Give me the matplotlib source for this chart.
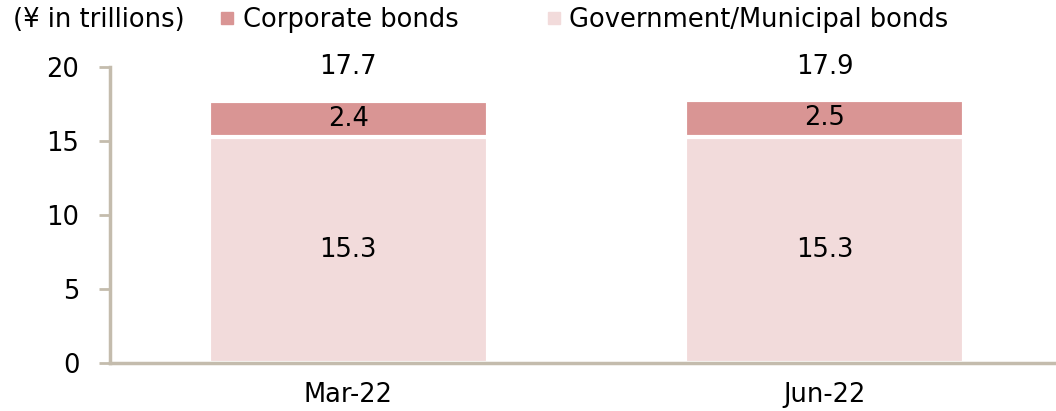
import matplotlib.pyplot as plt
from matplotlib.lines import Line2D

categories = ['Mar-22', 'Jun-22']
government = [15.3, 15.3]
corporate = [2.4, 2.5]
totals = [17.7, 17.9]

col_gov = '#F2DBDB'
col_corp = '#D99594'
spine_col = '#C4BCAD'
fs = 18.5

plt.rcParams['font.family'] = 'DejaVu Sans'

fig = plt.figure(figsize=(10.56, 4.11), dpi=100)
ax = fig.add_axes([110 / 1056, 1 - 363 / 411, 953 / 1056, 296 / 411])

x = range(len(categories))
ax.bar(x, government, width=0.585, color=col_gov, edgecolor='white', linewidth=3)
ax.bar(x, corporate, bottom=government, width=0.585, color=col_corp,
       edgecolor='white', linewidth=3)

for i in x:
    ax.text(i, government[i] / 2, f'{government[i]:.1f}', ha='center', va='center',
            fontsize=fs)
    ax.text(i, government[i] + corporate[i] / 2, f'{corporate[i]:.1f}', ha='center',
            va='center', fontsize=fs)
    ax.text(i, 20, f'{totals[i]:.1f}', ha='center', va='center', fontsize=fs)

ax.set_xlim(-0.5, 1.5)
ax.set_ylim(0, 20)
ax.set_yticks([0, 5, 10, 15, 20])
ax.set_xticks(list(x))
ax.set_xticklabels(categories)
ax.tick_params(axis='y', length=8, width=2, color=spine_col, labelsize=fs, pad=14)
ax.tick_params(axis='x', length=0, labelsize=fs, pad=14)
for s in ['top', 'right']:
    ax.spines[s].set_visible(False)
for s in ['left', 'bottom']:
    ax.spines[s].set_color(spine_col)
    ax.spines[s].set_linewidth(2.5)

fig.text(13 / 1056, 1 - 20 / 411, '(¥ in trillions)', ha='left', va='center', fontsize=fs)

handles = [Line2D([], [], marker='s', linestyle='none', markersize=8, color=col_corp),
           Line2D([], [], marker='s', linestyle='none', markersize=8, color=col_gov)]
fig.legend(handles, ['Corporate bonds', 'Government/Municipal bonds'], ncol=2,
           loc='center left', bbox_to_anchor=(217 / 1056, 1 - 20 / 411), frameon=False,
           fontsize=fs, handlelength=0.8, handletextpad=0.21, columnspacing=3.3,
           borderaxespad=0, borderpad=0)

fig.savefig('out.png', dpi=100)
